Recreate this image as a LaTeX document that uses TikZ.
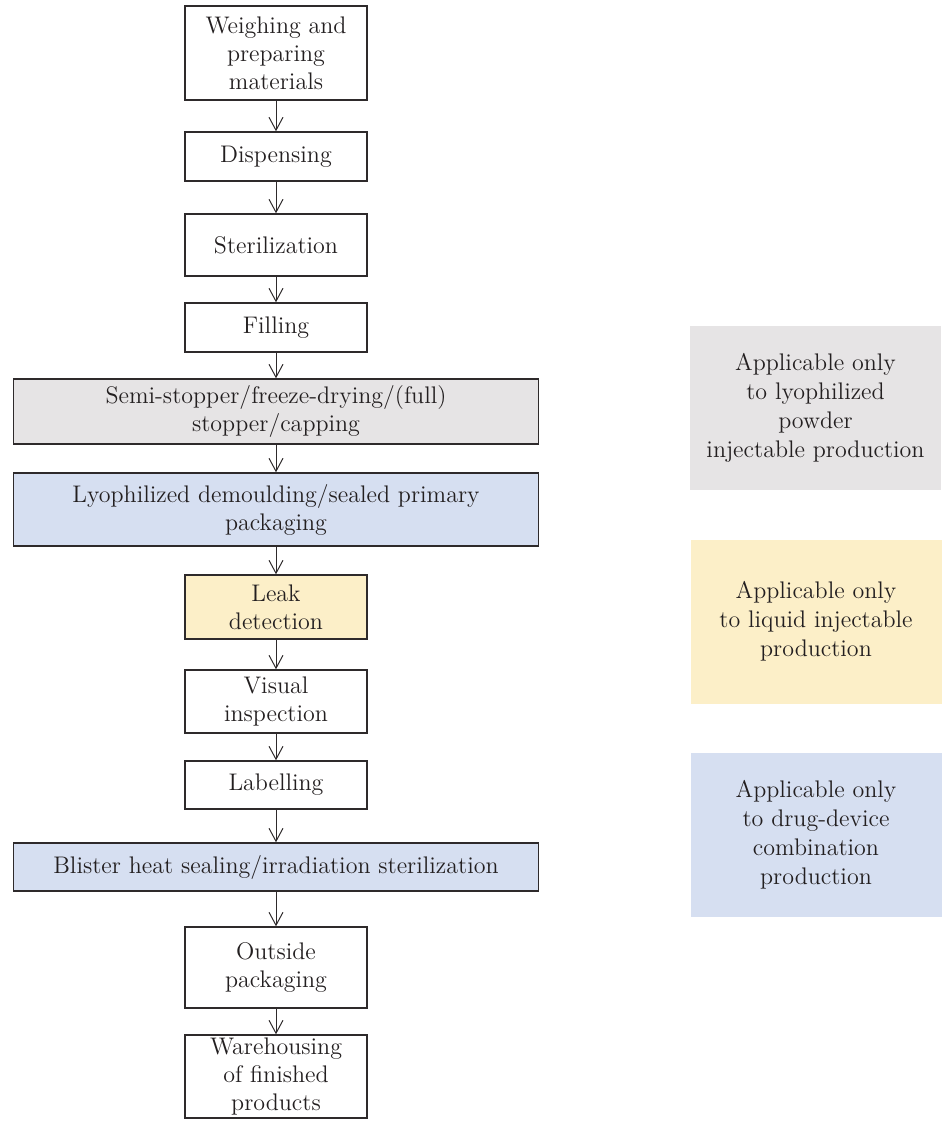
\documentclass[tikz,border=0pt]{standalone}
\usetikzlibrary{arrows.meta}
\definecolor{lyogray}{HTML}{E6E4E5}
\definecolor{liqyellow}{HTML}{FCEFC8}
\definecolor{devblue}{HTML}{D6DFF1}
\definecolor{edge}{HTML}{2E2A2B}
\definecolor{ink}{HTML}{231F20}
\begin{document}
\begin{tikzpicture}[x=0.5pt, y=-0.5pt,
  box/.style={draw=edge, line width=0.7pt, align=center, text=ink,
    font=\fontsize{12}{14}\selectfont, inner xsep=3pt, inner ysep=0.5pt,
    minimum width=91pt},
  widebox/.style={box, minimum width=262.5pt},
  note/.style={align=center, text=ink, font=\fontsize{12}{14.5}\selectfont,
    minimum width=125.5pt, minimum height=82pt},
  flow/.style={-{Straight Barb[length=6.5pt,width=7pt]}, draw=edge, line width=0.5pt}]
\useasboundingbox (0,0) rectangle (944,1124);
% process column
\node (1)[box, minimum height=47pt] at (276,53) {Weighing and\\preparing\\materials};
\node (2)[box, minimum height=24.5pt] at (276,156.5) {Dispensing};
\node (3)[box, minimum height=31pt] at (276,245) {Sterilization};
\node (4)[box, minimum height=24.5pt] at (276,327.5) {Filling};
\node (5)[widebox, fill=lyogray, minimum height=32.5pt] at (276,411.5) {Semi-stopper/freeze-drying/(full)\\stopper/capping};
\node (6)[widebox, fill=devblue, minimum height=36.5pt] at (276,509.5) {Lyophilized demoulding/sealed primary\\packaging};
\node (7)[box, fill=liqyellow, minimum height=32pt] at (276,607) {Leak\\detection};
\node (8)[box, minimum height=31.5pt] at (276,701.5) {Visual\\inspection};
\node (9)[box, minimum height=24pt] at (276,785) {Labelling};
\node (10)[widebox, fill=devblue, minimum height=24pt] at (276,867) {Blister heat sealing/irradiation sterilization};
\node (11)[box, minimum height=40.5pt] at (276,967.5) {Outside\\packaging};
\node (12)[box, minimum height=41.5pt] at (276,1076.5) {Warehousing\\of finished\\products};
% legend
\node (lyo)[note, fill=lyogray] at (815.5,408) {Applicable only\\to lyophilized\\powder\\injectable production};
\node (liq)[note, fill=liqyellow] at (816,621.5) {Applicable only\\to liquid injectable\\production};
\node (dev)[note, fill=devblue] at (816,835) {Applicable only\\to drug-device\\combination\\production};
\draw[flow] (1) -- (2);
\draw[flow] (2) -- (3);
\draw[flow] (3) -- (4);
\draw[flow] (4) -- (5);
\draw[flow] (5) -- (6);
\draw[flow] (6) -- (7);
\draw[flow] (7) -- (8);
\draw[flow] (8) -- (9);
\draw[flow] (9) -- (10);
\draw[flow] (10) -- (11);
\draw[flow] (11) -- (12);
\end{tikzpicture}
\end{document}
